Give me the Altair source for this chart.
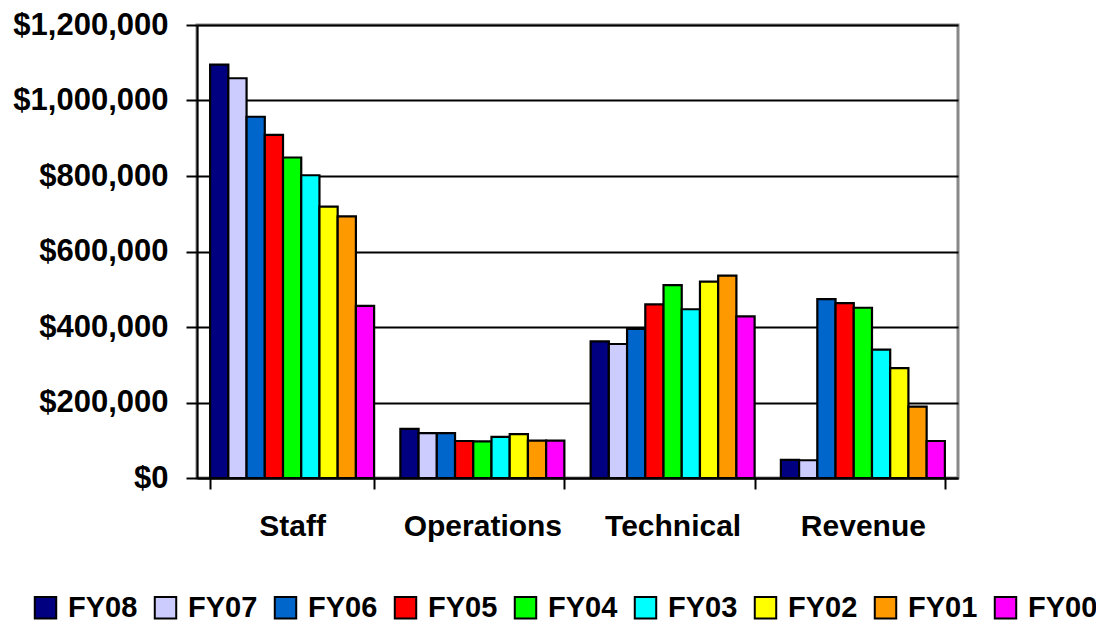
import altair as alt
import pandas as pd

categories = ["Staff", "Operations", "Technical", "Revenue"]
years = ["FY08", "FY07", "FY06", "FY05", "FY04", "FY03", "FY02", "FY01", "FY00"]
colors = ["#000080", "#CCCCFF", "#0066CC", "#FF0000", "#00FF00", "#00FFFF", "#FFFF00", "#FF9900", "#FF00FF"]

staff = [1095000, 1059000, 957000, 909000, 849000, 802000, 719000, 693000, 456000]
operations = [130000, 119000, 119000, 98000, 97000, 109000, 116000, 99000, 99000]
technical = [362000, 355000, 395000, 460000, 511000, 447000, 520000, 536000, 428000]
revenue = [48000, 47000, 474000, 463000, 451000, 340000, 291000, 189000, 98000]

series = {"Staff": staff, "Operations": operations, "Technical": technical, "Revenue": revenue}
rows = []
for c in categories:
    for y, v in zip(years, series[c]):
        rows.append({"category": c, "year": y, "value": v})
df = pd.DataFrame(rows)

FONT = "Liberation Sans"

chart = alt.Chart(df).mark_bar(stroke="black", strokeWidth=2.2).encode(
    x=alt.X("category:N", sort=categories, title=None,
            scale=alt.Scale(paddingInner=0.138, paddingOuter=0.069),
            axis=alt.Axis(labelAngle=0, tickBand="extent", tickSize=11, tickWidth=2,
                          tickColor="black", domainColor="black", domainWidth=2,
                          labelFont=FONT, labelFontSize=30, labelFontWeight="bold",
                          labelColor="black", labelPadding=22)),
    xOffset=alt.XOffset("year:N", sort=years),
    y=alt.Y("value:Q", title=None,
            scale=alt.Scale(domain=[0, 1200000], nice=False),
            axis=alt.Axis(values=[0, 200000, 400000, 600000, 800000, 1000000, 1200000],
                          format="$,.0f", grid=True, gridColor="black", gridWidth=2,
                          tickSize=11, tickWidth=2, tickColor="black",
                          domainColor="black", domainWidth=2,
                          labelFont=FONT, labelFontSize=31, labelFontWeight="bold",
                          labelColor="black", labelPadding=18)),
    color=alt.Color("year:N", sort=years,
                    scale=alt.Scale(domain=years, range=colors),
                    legend=alt.Legend(title=None, orient="none", legendX=-166, legendY=568,
                                      direction="horizontal",
                                      columns=9, symbolType="square", symbolSize=460,
                                      symbolStrokeColor="black", symbolStrokeWidth=2,
                                      labelFont=FONT, labelFontSize=29, labelFontWeight="bold",
                                      labelColor="black", columnPadding=12, labelOffset=8,
                                      symbolOpacity=1)),
).properties(
    width=761, height=453,
    autosize=alt.AutoSizeParams(type="none"),
    padding={"left": 189, "top": 17, "right": 138, "bottom": 150},
).configure_view(stroke="#888888", strokeWidth=3)

chart.save("out.html", embed_options={"renderer": "svg", "actions": False})
